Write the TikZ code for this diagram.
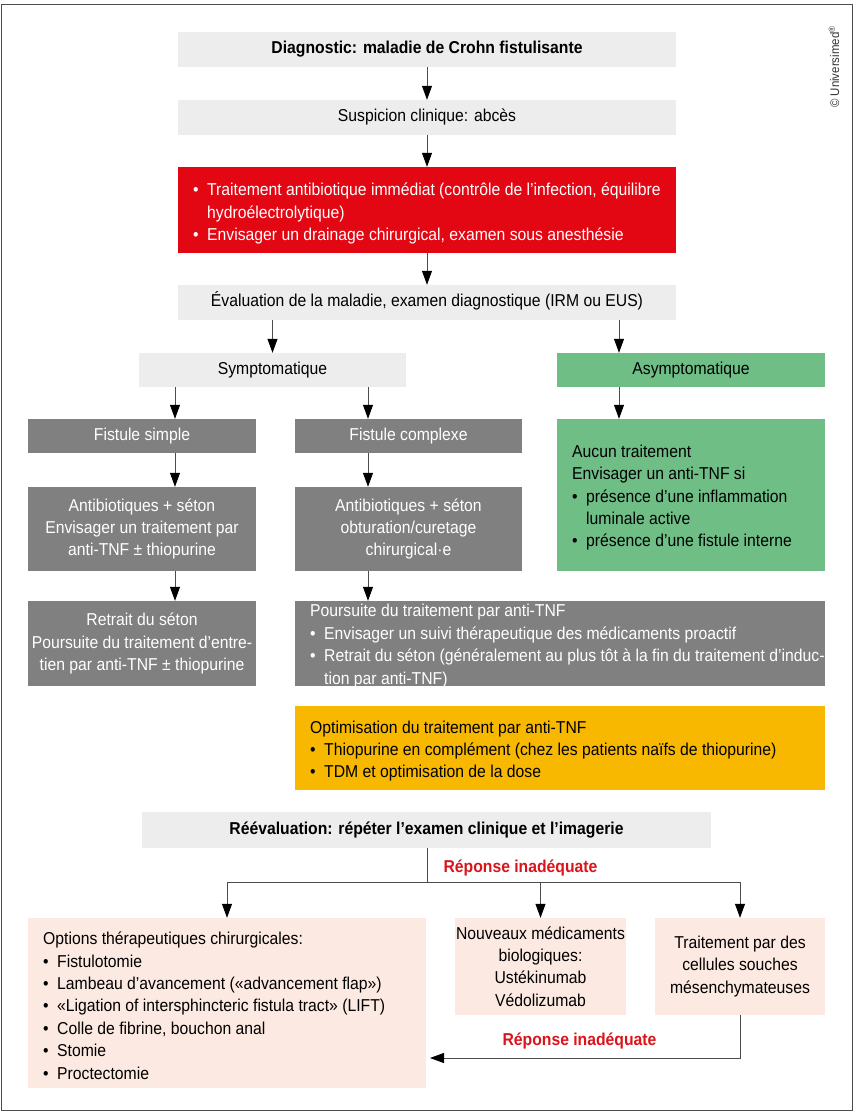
\documentclass[tikz,border=0pt]{standalone}
\usepackage{fontspec}
\setmainfont{Liberation Sans}[FakeStretch=0.915]
\usetikzlibrary{arrows.meta}
\definecolor{lgray}{HTML}{EDEDED}
\definecolor{dgray}{HTML}{808080}
\definecolor{cred}{HTML}{E30613}
\definecolor{cgreen}{HTML}{6EBE86}
\definecolor{cyellow}{HTML}{F9B800}
\definecolor{cpink}{HTML}{FCE9E1}
\definecolor{lred}{HTML}{D9141C}
\newcommand{\myfs}{\fontsize{17.2}{22.4}\selectfont}
\newcommand{\mybul}{\makebox[14pt][l]{•}}
\newcommand{\myind}{\hspace*{14pt}}
\begin{document}
\begin{tikzpicture}[x=1pt,y=-1pt,
  box/.style={inner sep=0pt, align=center, font=\myfs},
  sl/.style={text height=12.3pt, text depth=3.6pt},
  lbox/.style={box, fill=lgray},
  dbox/.style={box, fill=dgray, text=white},
  gbox/.style={box, fill=cgreen},
  pbox/.style={box, fill=cpink},
  bg/.style={inner sep=0pt},
  txt/.style={inner sep=0pt, align=left, anchor=west, font=\myfs},
  lab/.style={inner sep=0pt, font=\myfs\bfseries, text=lred},
  ln/.style={draw=black!70, line width=0.8pt},
  arr/.style={ln, -{Triangle[length=14pt,width=10pt,color=black]}}
]
\useasboundingbox (0,0) rectangle (854,1113);
\draw[black!70, line width=0.8pt] (1.5,4) rectangle (852.5,1110.5);

\node[inner sep=0pt, rotate=90, text=black!80, font=\fontsize{12.5}{13}\selectfont] (copy) at (834,67) {© Universimed\textsuperscript{®}};

\node[lbox, sl, font=\myfs\bfseries, minimum width=498pt, minimum height=35pt] (diag) at (427,49.5) {Diagnostic: maladie de Crohn fistulisante};
\node[lbox, sl, minimum width=498pt, minimum height=35pt] (susp) at (427,117.5) {Suspicion clinique: abcès};
\node[bg, fill=cred, minimum width=498pt, minimum height=86pt] (red) at (427,210) {};
\node[txt, text=white] (redT) at (193,213.5) {\mybul Traitement antibiotique immédiat (contrôle de l’infection, équilibre\\ \myind hydroélectrolytique)\\ \mybul Envisager un drainage chirurgical, examen sous anesthésie};
\node[lbox, sl, minimum width=498pt, minimum height=35pt] (eval) at (427,302.5) {Évaluation de la maladie, examen diagnostique (IRM ou EUS)};

\node[lbox, sl, minimum width=267pt, minimum height=34pt] (sympt) at (272.5,370) {Symptomatique};
\node[gbox, sl, minimum width=268pt, minimum height=34pt] (asym) at (691,370) {Asymptomatique};

\node[dbox, sl, minimum width=228pt, minimum height=34pt] (fs) at (142,436) {Fistule simple};
\node[dbox, sl, minimum width=227pt, minimum height=34pt] (fc) at (408.5,436) {Fistule complexe};
\node[bg, fill=cgreen, minimum width=268pt, minimum height=152pt] (tnf) at (691,495) {};
\node[txt] (tnfT) at (572,497.6) {Aucun traitement\\Envisager un anti-TNF si\\\mybul présence d’une inflammation\\\myind luminale active\\\mybul présence d’une fistule interne};

\node[dbox, minimum width=228pt, minimum height=84pt] (ab1) at (142,529) {Antibiotiques + séton\\Envisager un traitement par\\anti-TNF ± thiopurine};
\node[dbox, minimum width=227pt, minimum height=84pt] (ab2) at (408.5,529) {Antibiotiques + séton\\obturation/curetage\\chirurgical·e};

\node[dbox, minimum width=228pt, minimum height=85pt] (retr) at (142,643.5) {Retrait du séton\\Poursuite du traitement d’entre-\\tien par anti-TNF ± thiopurine};
\node[bg, fill=dgray, minimum width=530pt, minimum height=85pt] (pours) at (560,643.5) {};
\node[txt, text=white] (poursT) at (310,646) {Poursuite du traitement par anti-TNF\\\mybul Envisager un suivi thérapeutique des médicaments proactif\\\mybul Retrait du séton (généralement au plus tôt à la fin du traitement d’induc-\\\myind tion par anti-TNF)};

\node[bg, fill=cyellow, minimum width=530pt, minimum height=84pt] (opt) at (560,748) {};
\node[txt] (optT) at (310,751) {Optimisation du traitement par anti-TNF\\\mybul Thiopurine en complément (chez les patients naïfs de thiopurine)\\\mybul TDM et optimisation de la dose};

\node[lbox, sl, font=\myfs\bfseries, minimum width=569pt, minimum height=36pt] (reev) at (426.5,830) {Réévaluation: répéter l’examen clinique et l’imagerie};
\node[lab, anchor=base] (lab1) at (520.5,872) {Réponse inadéquate};
\coordinate (split) at (427,882.5);

\node[bg, fill=cpink, minimum width=398pt, minimum height=170pt] (surg) at (227,1003) {};
\node[txt] (surgT) at (43,1005.6) {Options thérapeutiques chirurgicales:\\\mybul Fistulotomie\\\mybul Lambeau d’avancement («advancement flap»)\\\mybul «Ligation of intersphincteric fistula tract» (LIFT)\\\mybul Colle de fibrine, bouchon anal\\\mybul Stomie\\\mybul Proctectomie};
\node[pbox, minimum width=171pt, minimum height=97pt] (bio) at (540.5,966.5) {Nouveaux médicaments\\biologiques:\\Ustékinumab\\Védolizumab};
\node[pbox, minimum width=170pt, minimum height=97pt] (cell) at (740,966.5) {Traitement par des\\cellules souches\\mésenchymateuses};
\node[lab, anchor=base] (lab2) at (579.5,1045) {Réponse inadéquate};
\coordinate (ret) at (430,1058);

\draw[arr] (diag) -- (susp);
\draw[arr] (susp) -- (red);
\draw[arr] (red) -- (eval);
\draw[arr] (eval.south -| sympt.north) -- (sympt.north);
\draw[arr] ([xshift=192pt]eval.south) -- ([xshift=192pt]eval.south |- asym.north);
\draw[arr] ([xshift=33pt]fs.north |- sympt.south) -- ([xshift=33pt]fs.north);
\draw[arr] ([xshift=-40.5pt]fc.north |- sympt.south) -- ([xshift=-40.5pt]fc.north);
\draw[arr] ([xshift=-72pt]asym.south) -- ([xshift=-72pt]tnf.north);
\draw[arr] ([xshift=33pt]fs.south) -- ([xshift=33pt]ab1.north);
\draw[arr] ([xshift=-40.5pt]fc.south) -- ([xshift=-40.5pt]ab2.north);
\draw[arr] ([xshift=33pt]ab1.south) -- ([xshift=33pt]retr.north);
\draw[arr] ([xshift=-40.5pt]ab2.south) -- ([xshift=-40.5pt]ab2.south |- pours.north);
\draw[ln] (reev.south -| split) -- (split);
\draw[arr] (split) -| (surg.north);
\draw[arr] (split) -| (bio.north);
\draw[arr] (split) -| (cell.north);
\draw[arr] (cell.south) |- (ret);
\end{tikzpicture}
\end{document}
